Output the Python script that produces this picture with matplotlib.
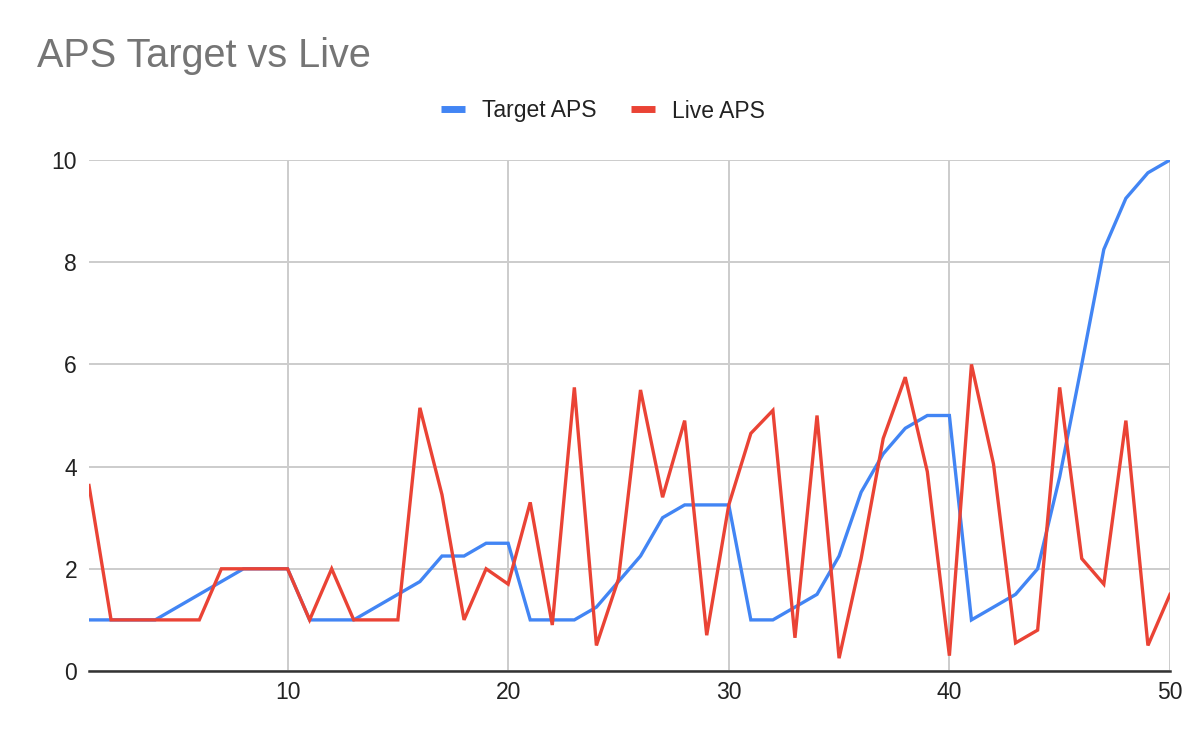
import matplotlib
matplotlib.use("Agg")
import matplotlib.pyplot as plt
from matplotlib.lines import Line2D

plt.rcParams['font.family'] = ['Liberation Sans', 'DejaVu Sans']

x = list(range(1, 51))
target_aps = [1, 1, 1, 1, 1.25, 1.5, 1.75, 2, 2, 2,
              1, 1, 1, 1.25, 1.5, 1.75, 2.25, 2.25, 2.5, 2.5,
              1, 1, 1, 1.25, 1.75, 2.25, 3, 3.25, 3.25, 3.25,
              1, 1, 1.25, 1.5, 2.25, 3.5, 4.25, 4.75, 5, 5,
              1, 1.25, 1.5, 2, 3.8, 6, 8.25, 9.25, 9.75, 10]
live_aps = [3.63, 1, 1, 1, 1, 1, 2, 2, 2, 2,
            1, 2, 1, 1, 1, 5.15, 3.45, 1, 2, 1.7,
            3.3, 0.9, 5.55, 0.5, 1.8, 5.5, 3.4, 4.9, 0.7, 3.25,
            4.65, 5.1, 0.65, 5.0, 0.25, 2.2, 4.55, 5.75, 3.9, 0.3,
            6.0, 4.05, 0.55, 0.8, 5.55, 2.2, 1.7, 4.9, 0.5, 1.5]
x_ticks = [10, 20, 30, 40, 50]
y_ticks = [0, 2, 4, 6, 8, 10]

blue = '#4285F4'
red = '#EA4335'

fig = plt.figure(figsize=(12.04, 7.40), dpi=100)
ax = fig.add_axes([89/1204, 1-671/740, (1170-89)/1204, (671-160)/740])

ax.plot(x, target_aps, color=blue, lw=2.4, solid_joinstyle='miter', zorder=3)
ax.plot(x, live_aps, color=red, lw=2.4, solid_joinstyle='miter', zorder=4)

ax.set_xlim(1, 50)
ax.set_ylim(0, 10)
ax.set_xticks(x_ticks)
ax.set_yticks(y_ticks)
ax.grid(True, color='#cccccc', lw=1.4, zorder=0)
ax.set_axisbelow(True)
for s in ['top', 'right', 'left']:
    ax.spines[s].set_visible(False)
ax.spines['bottom'].set_color('#333333')
ax.spines['bottom'].set_linewidth(1.8)
ax.spines['bottom'].set_zorder(5)
ax.tick_params(axis='both', length=0, labelsize=16.5, labelcolor='#222222')
ax.tick_params(axis='y', pad=8.6)
ax.tick_params(axis='x', pad=7)

fig.text(37/1204, 1-67/740, 'APS Target vs Live', fontsize=28.5, color='#757575',
         ha='left', va='baseline')

handles = [Line2D([0], [0], color=blue, lw=5, solid_capstyle='butt'),
           Line2D([0], [0], color=red, lw=5, solid_capstyle='butt')]
fig.legend(handles, ['Target APS', 'Live APS'], loc='center',
           bbox_to_anchor=(603/1204, 1-111/740), ncol=2, frameon=False,
           fontsize=16.5, handlelength=1.05, handletextpad=0.75,
           columnspacing=1.5, labelcolor='#222222')

fig.savefig('out.png', dpi=100, facecolor='white')
